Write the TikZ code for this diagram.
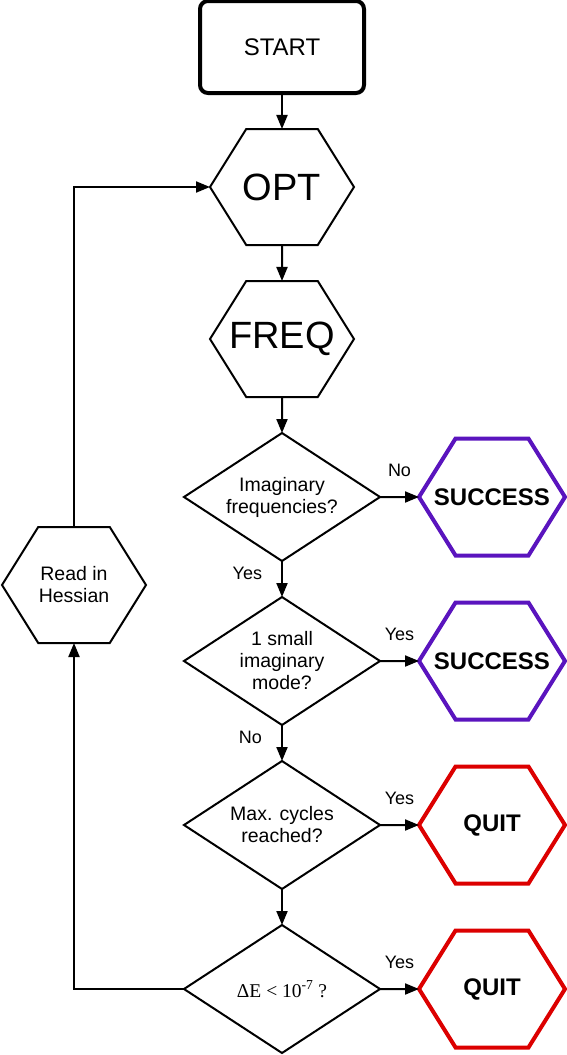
\documentclass[tikz,border=0pt]{standalone}
\usepackage{fontspec}
\setmainfont{Liberation Sans}
\newfontfamily\timesfont{Liberation Serif}
\usetikzlibrary{arrows.meta,positioning,shapes.geometric,shapes.symbols}
\definecolor{okpurple}{RGB}{90,20,190}
\definecolor{quitred}{RGB}{220,0,0}
\tikzset{
  startnode/.style={rectangle,draw,rounded corners=8pt,line width=4pt,minimum width=164pt,minimum height=92pt,font=\fontsize{24}{28}\selectfont},
  hexnode/.style={signal,signal to=east and west,signal pointer angle=116,draw,line width=2pt,inner ysep=0pt,inner xsep=-25pt,minimum width=144pt,minimum height=116pt},
  bignode/.style={hexnode,font=\fontsize{38}{40}\selectfont},
  decnode/.style={diamond,draw,line width=2pt,aspect=1.5,inner sep=0pt,minimum width=196pt,minimum height=128pt,align=center,font=\fontsize{19.5}{22}\selectfont},
  endnode/.style={hexnode,line width=4pt,minimum width=146pt,minimum height=117pt,font=\fontsize{24}{28}\selectfont\bfseries},
  edge/.style={-{Triangle[length=14pt,width=11pt]},line width=2pt},
  lab/.style={font=\fontsize{18}{20}\selectfont,inner sep=2pt},
  every node/.style={outer sep=0pt}
}
\begin{document}
\begin{tikzpicture}[node distance=36pt]
\useasboundingbox (0,0) rectangle (566pt,-1055pt);
\node[startnode] (start) at (282pt,-47pt) {START};
\node[bignode, below=of start] (opt) {OPT};
\node[bignode, below=of opt] (freq) {FREQ};
\node[decnode, below=of freq] (imag) {Imaginary\\frequencies?};
\node[decnode, below=of imag] (small) {1 small\\imaginary\\mode?};
\node[decnode, below=of small] (maxc) {Max. cycles\\reached?};
\node[decnode, below=of maxc] (de) {\timesfont ΔE < 10\textsuperscript{-7} ?};

% outcomes
\node[endnode, draw=okpurple, right=39pt of imag] (ok1) {SUCCESS};
\node[endnode, draw=okpurple, right=39pt of small] (ok2) {SUCCESS};
\node[endnode, draw=quitred, right=39pt of maxc] (quit1) {QUIT};
\node[endnode, draw=quitred, right=39pt of de] (quit2) {QUIT};

% restart from hessian
\node[hexnode, align=center, font=\fontsize{19.5}{22}\selectfont] (hess) at (74pt,-585pt) {Read in\\Hessian};

% main line
\draw[edge] (start) -- (opt);
\draw[edge] (opt) -- (freq);
\draw[edge] (freq) -- (imag);
\draw[edge] (imag) -- node[lab, pos=0.35, left=18pt] {Yes} (small);
\draw[edge] (small) -- node[lab, pos=0.35, left=18pt] {No} (maxc);
\draw[edge] (maxc) -- (de);

% exits
\draw[edge] (imag) -- node[lab, above=18pt] {No} (ok1);
\draw[edge] (small) -- node[lab, above=18pt] {Yes} (ok2);
\draw[edge] (maxc) -- node[lab, above=18pt] {Yes} (quit1);
\draw[edge] (de) -- node[lab, above=18pt] {Yes} (quit2);

% loop back
\draw[edge] (de.west) -| (hess.south);
\draw[edge] (hess.north) |- (opt.west);
\end{tikzpicture}
\end{document}
